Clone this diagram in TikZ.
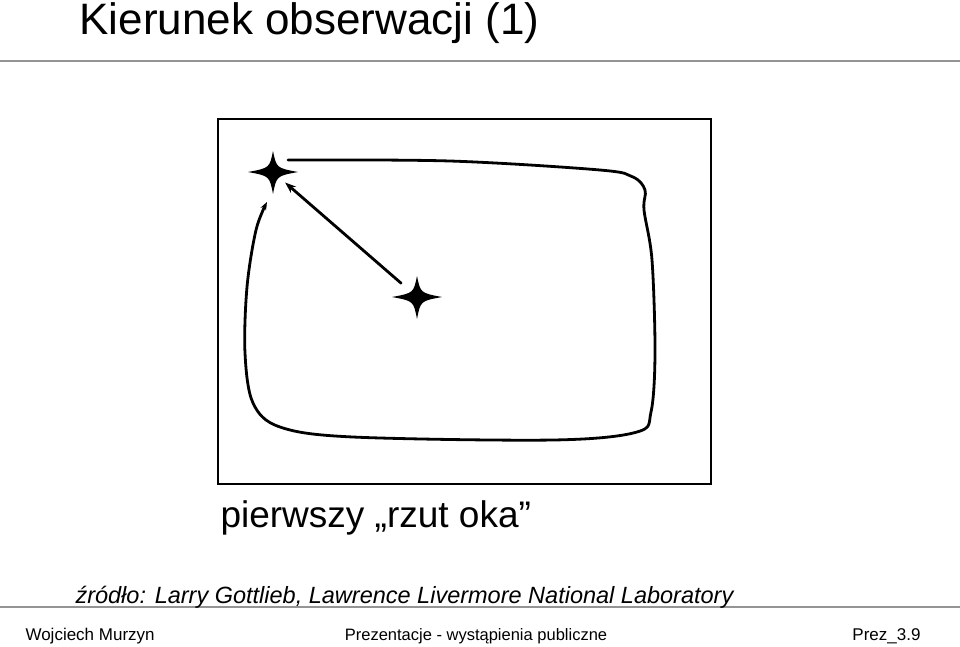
\documentclass[tikz,border=0pt]{standalone}
\usepackage{fontspec}
\setmainfont{Liberation Sans}
\usetikzlibrary{arrows.meta}

% four-pointed star drawn round a named coordinate
\newcommand\sparkle[1]{%
   \fill[shift={(#1)}] (0,-21) .. controls (3.5,-4) .. (25,0) .. controls (3.5,4) .. (0,22)
      .. controls (-3.5,4) .. (-25,0) .. controls (-3.5,-4) .. cycle;}

\begin{document}
\begin{tikzpicture}[x=1pt,y=-1pt,
      rule/.style={draw=black!42, line width=1.6pt},
      stroke/.style={line width=2.8pt, line cap=round, line join=round}]
   \useasboundingbox (0,0) rectangle (960,646);

   % slide header and footer
   \node[anchor=base west, font=\fontsize{44}{46}\selectfont] (title) at (76,34) {Kierunek obserwacji (1)};
   \draw[rule] (0,61) -- (960,61);
   \draw[rule] (0,607) -- (960,607);
   \node[anchor=base west, font=\fontsize{23.5}{25}\selectfont\itshape] (src) at (72,603)
      {źródło: Larry Gottlieb, Lawrence Livermore National Laboratory};
   \node[anchor=west, font=\fontsize{17}{19}\selectfont] (author) at (22,636) {Wojciech Murzyn};
   \node[font=\fontsize{16.5}{19}\selectfont] (course) at (476,636) {Prezentacje - wystąpienia publiczne};
   \node[anchor=east, font=\fontsize{17}{19}\selectfont] (page) at (924,636) {Prez\_3.9};

   % picture
   \node[draw, line width=1.3pt, minimum width=493pt, minimum height=365pt, inner sep=0pt]
      (frame) at (464.5,301.5) {};
   \coordinate (s1) at (273,172);
   \coordinate (s2) at (417,297);
   \sparkle{s1}
   \sparkle{s2}
   \node[anchor=base west, font=\fontsize{37}{39}\selectfont] (caption) at (217,527)
      {pierwszy „rzut oka”};

   \draw[stroke, -{Stealth[length=11pt,width=8pt]}, shorten <=21pt, shorten >=16pt] (s2) -- (s1);

   \coordinate (loopstart) at ([xshift=15pt,yshift=12pt]s1);
   \coordinate (loopend) at ([xshift=-6pt,yshift=-30pt]s1);
   \draw[stroke, -{Stealth[length=8pt,width=6pt]}] plot[smooth, tension=0.55] coordinates {
      (loopstart) (450,161) (600,170) (633,177) (645,190) (644,210) (652,260) (655,353)
      (651,412) (637,432) (553,440) (353,437) (280,427) (253,403) (245,353)
      (247,287) (256,230) (loopend)};
\end{tikzpicture}
\end{document}
